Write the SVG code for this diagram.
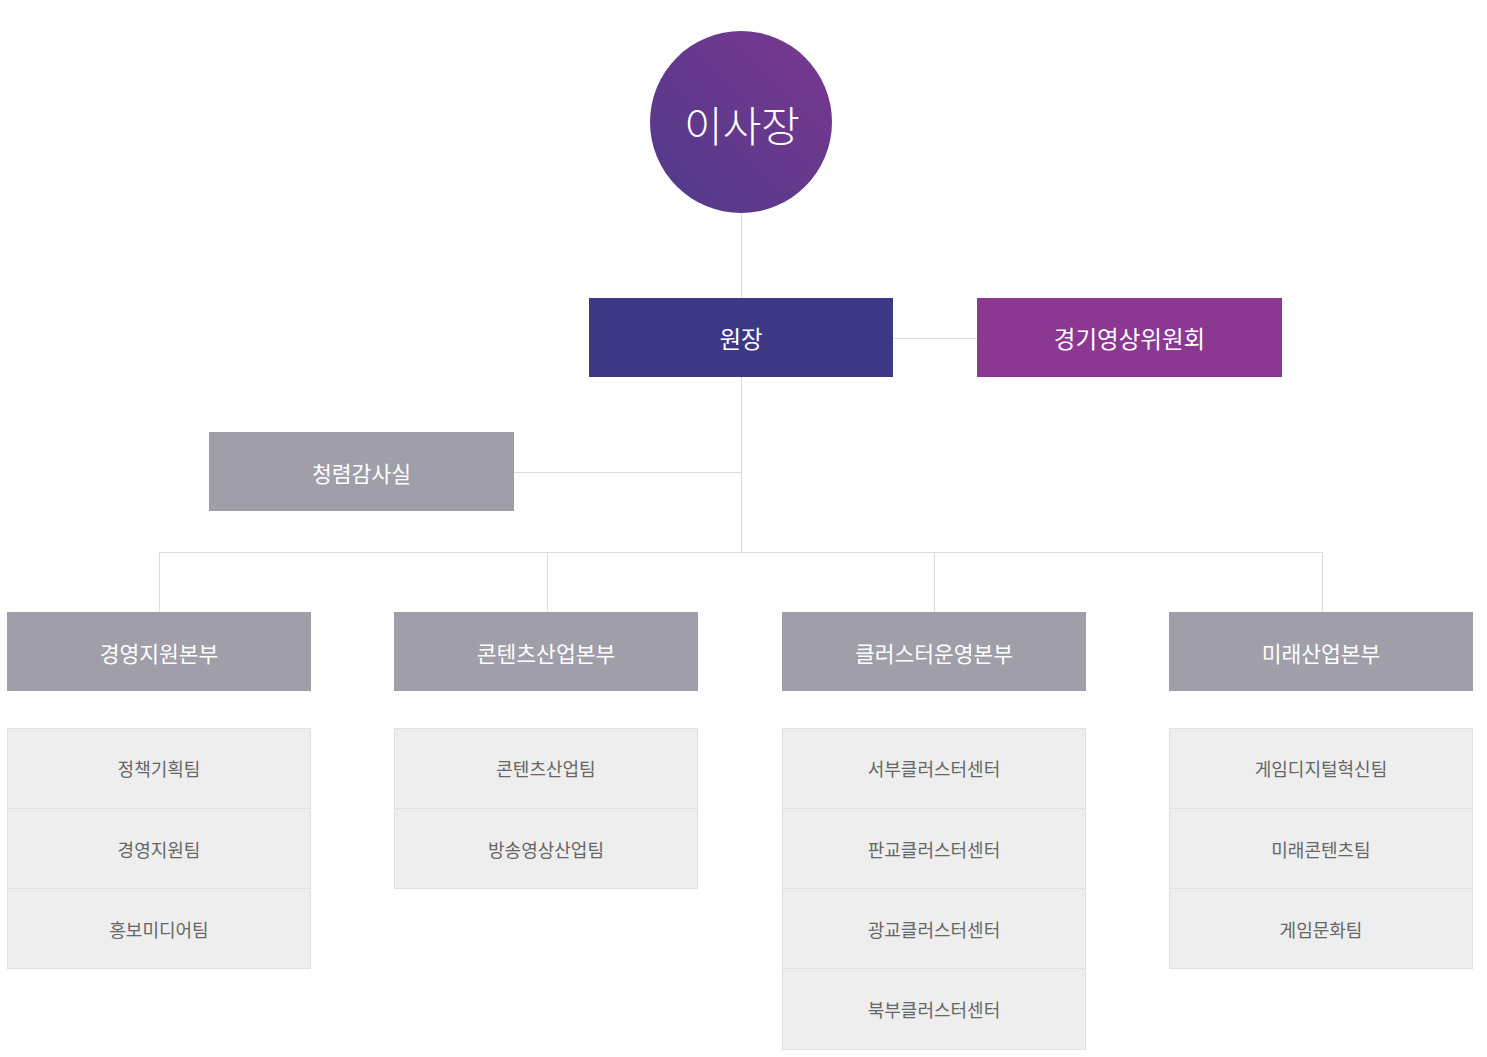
<svg xmlns="http://www.w3.org/2000/svg" width="1487" height="1057" viewBox="0 0 1487 1057">
<style>
text{font-family:"Noto Sans CJK KR","Noto Sans",sans-serif;text-anchor:middle;dominant-baseline:central}
.ln{stroke:#dddddd;stroke-width:1;fill:none}
.w{fill:#ffffff}
.div rect{fill:#9f9ea9}
.div text{fill:#ffffff;font-size:21.5px}
.team rect{fill:#eeeeee;stroke:#e0e0e0;stroke-width:1}
.team text{fill:#666666;font-size:18px}
</style>
<defs>
<linearGradient id="g" x1="1" y1="0" x2="0" y2="1">
<stop offset="0" stop-color="#7a3890"/>
<stop offset="1" stop-color="#4f3a8a"/>
</linearGradient>
</defs>
<g id="connectors">
<path class="ln" d="M741.5 213V552M893 338.5H977M514 472.5H741.5M159.5 552.5H1322.5M159.5 552V612M547.5 552V612M934.5 552V612M1322.5 552V612"/>
</g>
<g id="chairman"><circle cx="741" cy="122" r="91" fill="url(#g)"/><text class="w" x="742" y="123" font-size="42" font-weight="300">이사장</text></g>
<g id="director"><rect x="589" y="298" width="304" height="79" fill="#3c3886"/><text class="w" x="741" y="338" font-size="23.5">원장</text></g>
<g id="film-committee"><rect x="977" y="298" width="305" height="79" fill="#8c3792"/><text class="w" x="1129.5" y="338" font-size="23.5">경기영상위원회</text></g>
<g id="audit" class="div"><rect x="209" y="432" width="305" height="79"/><text x="361.5" y="472">청렴감사실</text></g>
<g id="div1" class="div"><rect x="7" y="612" width="304" height="79"/><text x="159" y="652">경영지원본부</text></g>
<g id="div2" class="div"><rect x="394" y="612" width="304" height="79"/><text x="546" y="652">콘텐츠산업본부</text></g>
<g id="div3" class="div"><rect x="782" y="612" width="304" height="79"/><text x="934" y="652">클러스터운영본부</text></g>
<g id="div4" class="div"><rect x="1169" y="612" width="304" height="79"/><text x="1321" y="652">미래산업본부</text></g>
<g id="teams1" class="team">
<rect x="7.5" y="728.5" width="303" height="80"/><text x="159" y="768">정책기획팀</text>
<rect x="7.5" y="808.5" width="303" height="80"/><text x="159" y="849">경영지원팀</text>
<rect x="7.5" y="888.5" width="303" height="80"/><text x="159" y="929">홍보미디어팀</text>
</g>
<g id="teams2" class="team">
<rect x="394.5" y="728.5" width="303" height="80"/><text x="546" y="768">콘텐츠산업팀</text>
<rect x="394.5" y="808.5" width="303" height="80"/><text x="546" y="849">방송영상산업팀</text>
</g>
<g id="teams3" class="team">
<rect x="782.5" y="728.5" width="303" height="80"/><text x="934" y="768">서부클러스터센터</text>
<rect x="782.5" y="808.5" width="303" height="80"/><text x="934" y="849">판교클러스터센터</text>
<rect x="782.5" y="888.5" width="303" height="80"/><text x="934" y="929">광교클러스터센터</text>
<rect x="782.5" y="968.5" width="303" height="81"/><text x="934" y="1009">북부클러스터센터</text>
</g>
<g id="teams4" class="team">
<rect x="1169.5" y="728.5" width="303" height="80"/><text x="1321" y="768">게임디지털혁신팀</text>
<rect x="1169.5" y="808.5" width="303" height="80"/><text x="1321" y="849">미래콘텐츠팀</text>
<rect x="1169.5" y="888.5" width="303" height="80"/><text x="1321" y="929">게임문화팀</text>
</g>
</svg>
